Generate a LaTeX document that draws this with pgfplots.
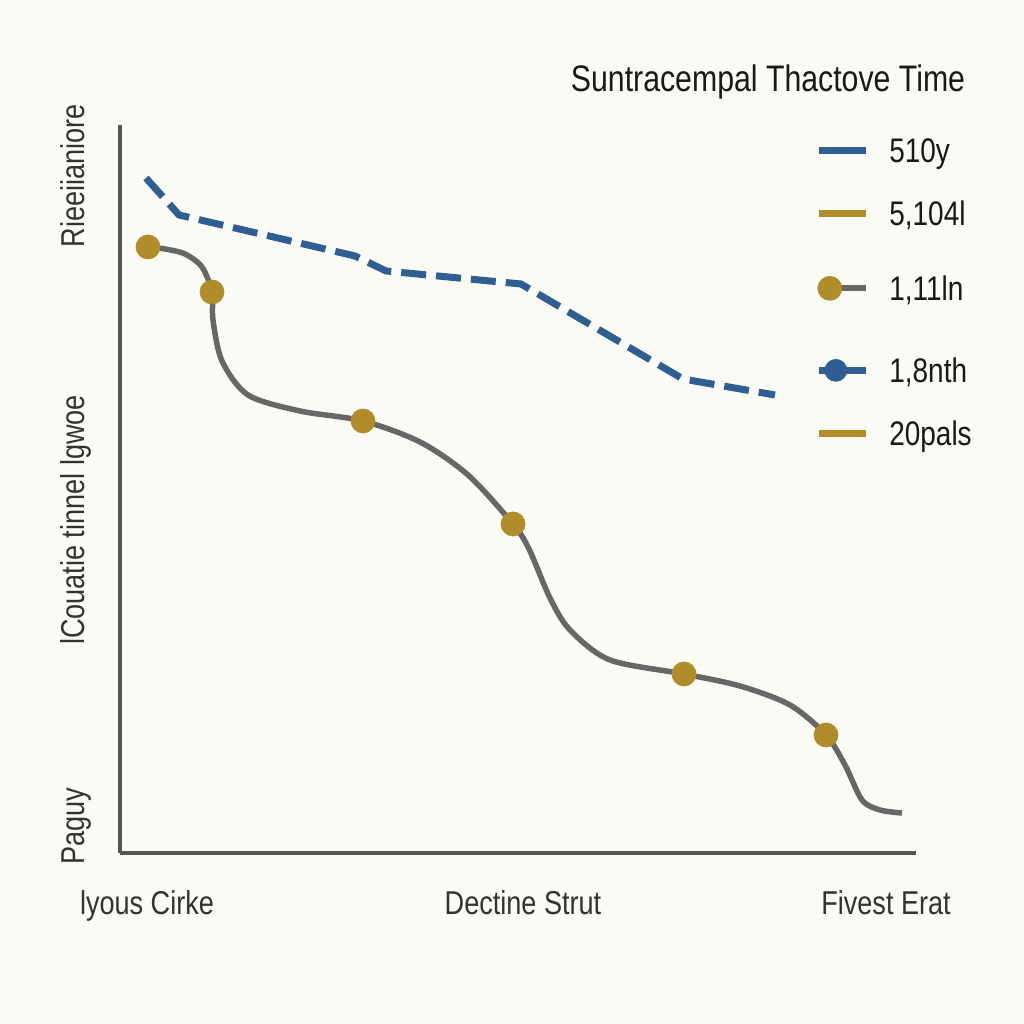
\documentclass[border=0pt]{standalone}
\usepackage{fontspec}
\setmainfont{Liberation Sans}[FakeStretch=0.82]
\usepackage{pgfplots}
\pgfplotsset{compat=1.18}
\definecolor{bg}{HTML}{FAFBF4}
\definecolor{bl}{HTML}{2E5E92}
\definecolor{gd}{HTML}{B08D2A}
\definecolor{gr}{HTML}{676767}
\definecolor{ax}{HTML}{555555}
\definecolor{tx}{HTML}{333333}
\begin{document}
\begin{tikzpicture}
\fill[bg] (0,0) rectangle (204.8mm,204.8mm);
\begin{axis}[
  at={(24mm,34.2mm)}, anchor=south west,
  scale only axis, width=159.2mm, height=145.6mm,
  xmin=120, xmax=916, ymin=171, ymax=899,
  axis x line=bottom, axis y line=left,
  axis line style={-, draw=ax, line width=0.7mm},
  xtick=\empty, ytick=\empty,
  clip=false,
  legend style={at={(axis cs:815,901)}, anchor=north west, draw=none, fill=none,
    inner sep=0pt, font=\fontsize{19.4}{23}\selectfont, text=black!90,
    row sep=0mm,
    nodes={inner sep=0pt, text height=5mm, text depth=1mm},
    /tikz/every odd column/.append style={column sep=4mm}},
  legend cell align=left,
]
% blue dashed series
\addplot[forget plot, bl, line width=1.4mm, dash pattern=on 5mm off 2mm] coordinates {
 (146,846) (179,809) (355,768) (386,753) (521,740) (683,645) (775,629)};
% gray smooth curve
\addplot[forget plot, gr, line width=1.1mm, smooth, tension=0.5] coordinates {
 (148,777) (165,775) (185,770) (202,757) (212,732) (213,704) (222,663) (248,629)
 (300,613) (363,603) (420,582) (468,549) (513,500) (529,475) (550,426) (570,394)
 (610,364) (684,350) (740,338) (790,319) (826,289) (845,259) (862,224) (880,214) (902,211)};
% gold markers
\addplot[forget plot, only marks, mark=*, mark size=2.4mm, gd, mark options={draw=gd, fill=gd}] coordinates {
 (148,777) (212,732) (363,603) (513,500) (684,350) (826,289)};

\addlegendimage{legend image code/.code={\draw[bl, line width=1.4mm] (0,0) -- (9.4mm,0);}}
\addlegendentry[text height=7.8mm, text depth=3mm]{510y}
\addlegendimage{legend image code/.code={\draw[gd, line width=1.4mm] (0,0) -- (9.4mm,0);}}
\addlegendentry[text height=9.6mm, text depth=4.8mm]{5,104l}
\addlegendimage{legend image code/.code={\draw[gr, line width=1.2mm] (2.2mm,0) -- (9.4mm,0); \fill[gd] (2.2mm,0) circle (2.4mm);}}
\addlegendentry[text height=10.2mm, text depth=5.4mm]{1,11ln}
\addlegendimage{legend image code/.code={\draw[bl, line width=1.4mm] (0,0) -- (9.4mm,0); \fill[bl] (3.4mm,0) circle (2.2mm);}}
\addlegendentry[text height=11mm, text depth=6.2mm]{1,8nth}
\addlegendimage{legend image code/.code={\draw[gd, line width=1.4mm] (0,0) -- (9.4mm,0);}}
\addlegendentry[text height=6.4mm, text depth=1.6mm]{20pals}

% title
\node[anchor=base, font=\fontsize{21}{25}\selectfont, text=black!90] at (axis cs:768,932) {Suntracempal Thactove Time};
% x labels
\node[anchor=base, font=\fontsize{18.8}{22}\selectfont, text=tx] at (axis cs:147,110) {lyous Cirke};
\node[anchor=base, font=\fontsize{18.8}{22}\selectfont, text=tx] at (axis cs:523,110) {Dectine Strut};
\node[anchor=base, font=\fontsize{18.8}{22}\selectfont, text=tx] at (axis cs:886,110) {Fivest Erat};
% y labels
\node[rotate=90, anchor=base, font=\fontsize{18.8}{22}\selectfont, text=tx] at (axis cs:85,848) {Rieeiianiore};
\node[rotate=90, anchor=base, font=\fontsize{18.8}{22}\selectfont, text=tx] at (axis cs:85,504) {lCouatie tinnel lgwoe};
\node[rotate=90, anchor=base, font=\fontsize{18.8}{22}\selectfont, text=tx] at (axis cs:85,198) {Paguy};
\end{axis}
\end{tikzpicture}
\end{document}
